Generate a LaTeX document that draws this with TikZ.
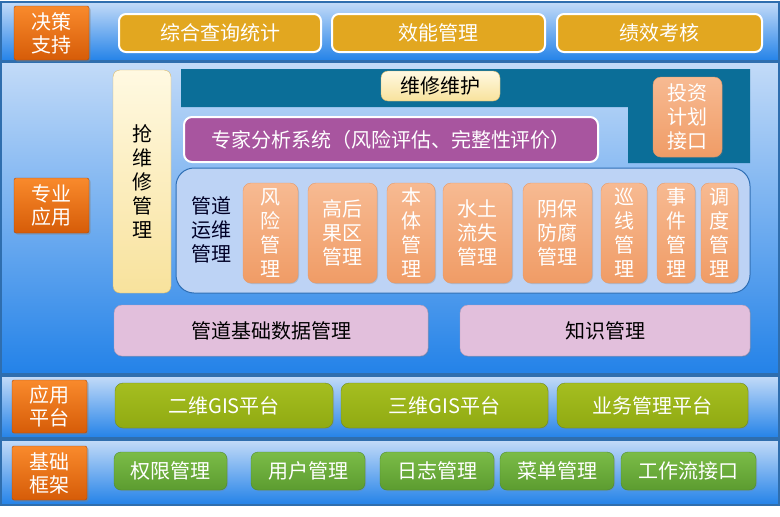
\documentclass[tikz,border=0pt]{standalone}
\usepackage{fontspec}
\newfontfamily\cjk{Noto Sans CJK SC}
\usetikzlibrary{shadows}

\definecolor{bandtop}{HTML}{C3DBF8}
\definecolor{bandbot}{HTML}{2382E8}
\definecolor{bandline}{HTML}{2F6EAE}
\definecolor{tagtop}{HTML}{F98A2C}
\definecolor{tagbot}{HTML}{D65C08}
\definecolor{tagline}{HTML}{A84A10}
\definecolor{goldfill}{HTML}{E2A720}
\definecolor{creamtop}{HTML}{FFF9E2}
\definecolor{creambot}{HTML}{F8E29C}
\definecolor{creamline}{HTML}{D9B866}
\definecolor{tealfill}{HTML}{0B6E98}
\definecolor{salmtop}{HTML}{F7BA92}
\definecolor{salmbot}{HTML}{F09C66}
\definecolor{salmline}{HTML}{E79A68}
\definecolor{purpfill}{HTML}{A8559F}
\definecolor{contfill}{HTML}{BDD3F5}
\definecolor{contline}{HTML}{2F6FB5}
\definecolor{pinkfill}{HTML}{E2BFDC}
\definecolor{pinkline}{HTML}{B79CB6}
\definecolor{olivetop}{HTML}{A5BE20}
\definecolor{olivebot}{HTML}{90AA12}
\definecolor{oliveline}{HTML}{6F8A22}
\definecolor{greentop}{HTML}{7BBC47}
\definecolor{greenbot}{HTML}{5C9C30}
\definecolor{greenline}{HTML}{4E8A2E}

\tikzset{
  every node/.style={font=\cjk\fontsize{20}{24}\selectfont, inner sep=1pt, align=center},
  band/.style={draw=bandline, line width=1.5pt, top color=bandtop, bottom color=bandbot},
  tag/.style={draw=tagline, rounded corners=2pt, top color=tagtop, bottom color=tagbot,
    text=white, font=\cjk\fontsize{20}{23}\selectfont,
    drop shadow={opacity=0.45, shadow xshift=1.5pt, shadow yshift=-1.5pt}},
  gold/.style={draw=white, line width=2pt, rounded corners=7pt, fill=goldfill, text=white},
  cream/.style={draw=creamline, rounded corners=7pt, top color=creamtop, bottom color=creambot, text=black},
  salm/.style={draw=salmline, rounded corners=8pt, top color=salmtop, bottom color=salmbot, text=white,
    drop shadow={opacity=0.3, shadow xshift=1pt, shadow yshift=-1pt}},
  purp/.style={draw=white, line width=2pt, rounded corners=8pt, fill=purpfill, text=white},
  cont/.style={draw=contline, line width=1pt, rounded corners=18pt, fill=contfill},
  pink/.style={draw=pinkline, rounded corners=8pt, fill=pinkfill, text=black,
    drop shadow={opacity=0.3, shadow xshift=1pt, shadow yshift=-1pt}},
  olive/.style={draw=oliveline, rounded corners=8pt, top color=olivetop, bottom color=olivebot, text=white,
    drop shadow={opacity=0.3, shadow xshift=1pt, shadow yshift=-1pt}},
  green/.style={draw=greenline, rounded corners=7pt, top color=greentop, bottom color=greenbot, text=white,
    drop shadow={opacity=0.3, shadow xshift=1pt, shadow yshift=-1pt}},
}

\begin{document}
\begin{tikzpicture}[x=1pt, y=-1pt]
    \useasboundingbox[fill=white] (0,0) rectangle (780,517);

    % layers
    \node[band, minimum width=778pt, minimum height=59pt] (jcband) at (390,31.5) {};
    \node[band, minimum width=778pt, minimum height=312pt] (zyband) at (390,218) {};
    \node[band, minimum width=778pt, minimum height=62pt] (ptband) at (390,407) {};
    \node[band, minimum width=778pt, minimum height=65pt] (kjband) at (390,472.5) {};

    \node[tag, minimum width=75pt, minimum height=54pt] (jczc) at (51.5,33) {决策\\支持};
    \node[tag, minimum width=75pt, minimum height=55pt] (zyyy) at (51.5,205.5) {专业\\应用};
    \node[tag, minimum width=75pt, minimum height=53pt] (yypt) at (49.5,406.5) {应用\\平台};
    \node[tag, minimum width=75pt, minimum height=54pt] (jckj) at (49.5,473) {基础\\框架};

    % decision support
    \node[gold, minimum width=202pt, minimum height=38pt] (zhcx) at (220,33) {综合查询统计};
    \node[gold, minimum width=213pt, minimum height=38pt] (xngl) at (438.5,33) {效能管理};
    \node[gold, minimum width=205pt, minimum height=38pt] (jxkh) at (659.5,33) {绩效考核};

    % applications
    \fill[tealfill] (181,69) -- (750,69) -- (750,163) -- (628,163) -- (628,107) -- (181,107) -- cycle;
    \node[cream, minimum width=58pt, minimum height=223pt] (qwx) at (142,181.5) {抢\\维\\修\\管\\理};
    \node[cream, minimum width=119pt, minimum height=30pt] (wxwh) at (440.5,86) {维修维护};
    \node[salm, minimum width=69pt, minimum height=80pt] (tzjh) at (687.5,117) {投资\\计划\\接口};
    \node[purp, minimum width=414pt, minimum height=45pt] (zjfx) at (391,139.5) {专家分析系统（风险评估、完整性评价）};

    \node[cont, minimum width=574pt, minimum height=125pt] (ywgl) at (463,230.5) {};
    \node[text=black!85!blue] (ywtxt) at (211,230) {管道\\运维\\管理};
    \node[salm, minimum width=55pt, minimum height=100pt] (fxgl) at (270.5,233) {风\\险\\管\\理};
    \node[salm, minimum width=69pt, minimum height=100pt] (ghgl) at (342.5,233) {高后\\果区\\管理};
    \node[salm, minimum width=48pt, minimum height=100pt] (btgl) at (411,233) {本\\体\\管\\理};
    \node[salm, minimum width=69pt, minimum height=100pt] (stgl) at (477.5,233) {水土\\流失\\管理};
    \node[salm, minimum width=69pt, minimum height=100pt] (ybgl) at (557.5,233) {阴保\\防腐\\管理};
    \node[salm, minimum width=46pt, minimum height=100pt] (xxgl) at (624,233) {巡\\线\\管\\理};
    \node[salm, minimum width=38pt, minimum height=100pt] (sjgl) at (676,233) {事\\件\\管\\理};
    \node[salm, minimum width=37pt, minimum height=100pt] (ddgl) at (719.5,233) {调\\度\\管\\理};

    \node[pink, minimum width=314pt, minimum height=51pt] (jcsj) at (271,330.5) {管道基础数据管理};
    \node[pink, minimum width=290pt, minimum height=51pt] (zsgl) at (605,330.5) {知识管理};

    % platforms
    \node[olive, minimum width=218pt, minimum height=45pt] (ewgis) at (224,405.5) {二维GIS平台};
    \node[olive, minimum width=207pt, minimum height=45pt] (swgis) at (444.5,405.5) {三维GIS平台};
    \node[olive, minimum width=191pt, minimum height=45pt] (ywpt) at (652.5,405.5) {业务管理平台};

    % framework
    \node[green, minimum width=113pt, minimum height=38pt] (qxgl) at (170.5,471) {权限管理};
    \node[green, minimum width=114pt, minimum height=38pt] (yhgl) at (308,471) {用户管理};
    \node[green, minimum width=114pt, minimum height=38pt] (rzgl) at (437,471) {日志管理};
    \node[green, minimum width=114pt, minimum height=38pt] (cdgl) at (557,471) {菜单管理};
    \node[green, minimum width=135pt, minimum height=38pt] (gzl) at (688.5,471) {工作流接口};
\end{tikzpicture}
\end{document}
